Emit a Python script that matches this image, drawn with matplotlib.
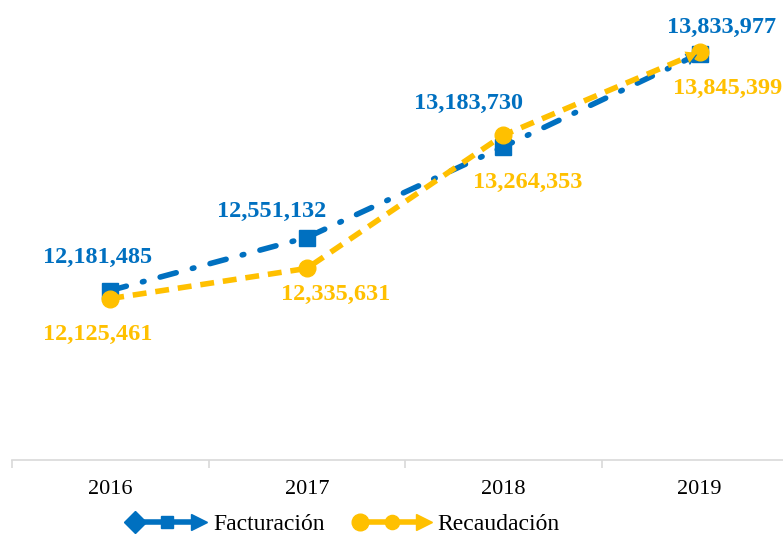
import numpy as np
import matplotlib.pyplot as plt
from matplotlib.lines import Line2D
from matplotlib.legend_handler import HandlerBase

years = ['2016', '2017', '2018', '2019']
facturacion = [12181485, 12551132, 13183730, 13833977]
recaudacion = [12125461, 12335631, 13264353, 13845399]

blue = '#0070C0'
yellow = '#FFC000'

plt.rcParams['font.family'] = ['Liberation Serif', 'DejaVu Serif']


class ArrowLineHandler(HandlerBase):
    # legend key like Excel: start cap, line, marker, end arrow
    def create_artists(self, legend, orig, xd, yd, width, height, fontsize, trans):
        c = orig.get_color()
        y = height / 2 - yd
        x0, x1 = -xd, -xd + width
        xm = (x0 + x1) / 2
        ms = orig.get_markersize()
        start_marker = 'o' if orig.get_marker() == 'o' else 'D'
        line = Line2D([x0 + 6, x1 - 6], [y, y], color=c, lw=4, transform=trans)
        start = Line2D([x0 + 5], [y], marker=start_marker, ms=ms,
                       color=c, ls='none', transform=trans)
        mid = Line2D([xm], [y], marker=orig.get_marker(), ms=ms * 0.85,
                     color=c, ls='none', transform=trans)
        end = Line2D([x1 - 5], [y], marker='>', ms=ms,
                     color=c, ls='none', transform=trans)
        return [line, start, mid, end]


fig = plt.figure(figsize=(7.83, 5.35), dpi=100)
ax = fig.add_axes([12 / 783, 75 / 535, 786 / 783, 459 / 535])
x = np.arange(len(years))

ax.plot(x, facturacion, color=blue, lw=4, linestyle=(0, (3, 3, 0.3, 3)),
        dash_capstyle='round', marker='s', ms=11, zorder=3)
ax.plot(x, recaudacion, color=yellow, lw=4, linestyle=(0, (2.5, 1.6)),
        marker='o', ms=12, zorder=4)

# arrow heads at the end of each line
for vals, col in [(facturacion, blue), (recaudacion, yellow)]:
    x0 = x[-2] + 0.88 * (x[-1] - x[-2])
    y0 = vals[-2] + 0.88 * (vals[-1] - vals[-2])
    ax.annotate('', xy=(x[-1], vals[-1]), xytext=(x0, y0),
                arrowprops=dict(arrowstyle='-|>,head_length=0.8,head_width=0.45',
                                color=col, lw=0), zorder=5)

lab_kw = dict(textcoords='offset pixels', ha='center', va='center',
              fontsize=17.5, fontweight='bold')
f_off = [(-13, 33), (-35, 26), (-35, 43), (22, 26)]
r_off = [(-13, -36), (29, -26), (24, -47), (28, -37)]
for i in range(len(years)):
    ax.annotate(f'{facturacion[i]:,}', (x[i], facturacion[i]),
                xytext=f_off[i], color=blue, **lab_kw)
    ax.annotate(f'{recaudacion[i]:,}', (x[i], recaudacion[i]),
                xytext=r_off[i], color=yellow, **lab_kw)

ax.set_xlim(-0.5, 3.5)
ax.set_ylim(11000000, 14200000)
ax.set_yticks([])
for s in ['top', 'right', 'left']:
    ax.spines[s].set_visible(False)
ax.spines['bottom'].set_color('#D9D9D9')
ax.spines['bottom'].set_linewidth(1.2)
ax.set_xticks(x)
ax.set_xticklabels(years, fontsize=16)
ax.tick_params(axis='x', which='major', length=0, pad=14.5)
ax.set_xticks(np.arange(-0.5, 4, 1), minor=True)
ax.tick_params(axis='x', which='minor', length=6, color='#D9D9D9', width=1.2)

handles = [
    Line2D([], [], color=blue, marker='s', ms=11),
    Line2D([], [], color=yellow, marker='o', ms=12),
]
fig.legend(handles, ['Facturación', 'Recaudación'], loc='center',
           bbox_to_anchor=(344 / 783, 1 - 524 / 535), ncol=2, frameon=False,
           fontsize=17, handlelength=3.3, columnspacing=1.2, handletextpad=0.3,
           borderpad=0.1, handler_map={Line2D: ArrowLineHandler()})

fig.savefig('out.png', dpi=100)
